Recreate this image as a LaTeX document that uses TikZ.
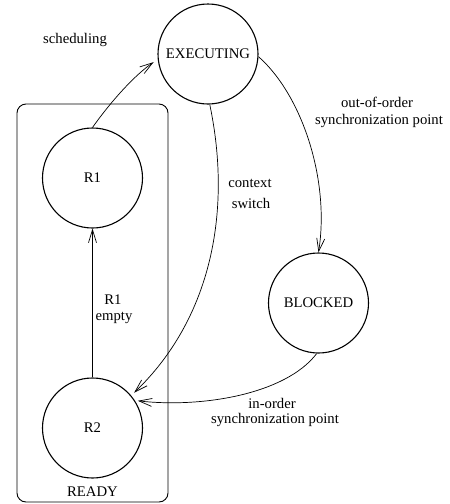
\documentclass[tikz,border=0pt]{standalone}
\usepackage{fontspec}
\setmainfont{Liberation Serif}
\usetikzlibrary{arrows.meta}
\newcommand\diagfont{\fontsize{14.7}{17}\selectfont}
\begin{document}
\begin{tikzpicture}[x=1pt, y=-1pt,
  state/.style={circle, draw, line width=1.1pt, minimum size=100pt, inner sep=0pt, font=\diagfont},
  lbl/.style={inner sep=0pt, align=center, font=\diagfont},
  flow/.style={line width=0.7pt, -{Straight Barb[length=13pt, width=8pt, line width=0.7pt]}},
  group/.style={draw, line width=0.9pt, rounded corners=9pt, minimum width=151pt, minimum height=398pt, inner sep=0pt}]
  \useasboundingbox (0,0) rectangle (450,504);

  % READY group with its two queues
  \node[group] (ready) at (92.5,303) {};
  \node[lbl, anchor=base] (readylbl) at (92.5,496) {READY};
  \node[state] (r1) at (92.5,178) {R1};
  \node[state] (r2) at (92.5,428) {R2};

  % running and blocked states
  \node[state] (exec) at (208,54) {EXECUTING};
  \node[state] (blocked) at (318.5,303) {BLOCKED};

  % transitions
  \draw[flow, shorten >=5pt] (r1.north) .. controls (112,100) and (135,75) .. (exec.186);
  \draw[flow] (r2.north) -- (r1.south);
  \draw[flow] (exec.-3) .. controls (302,95) and (330,180) .. (blocked.north);
  \draw[flow, shorten >=4pt] (exec.-88) .. controls (232,210) and (212,318) .. (r2.40);
  \draw[flow, shorten >=3pt] (blocked.-92) .. controls (285,395) and (200,408) .. (r2.33);

  % transition labels
  \node[lbl, anchor=base] (lsched) at (75,43) {scheduling};
  \node[lbl, anchor=base] (lout1) at (377,107) {out-of-order};
  \node[lbl, anchor=base] (lout2) at (379,124) {synchronization point};
  \node[lbl, anchor=base] (lctx1) at (250,187) {context};
  \node[lbl, anchor=base] (lctx2) at (251,208) {switch};
  \node[lbl, anchor=base] (lemp1) at (113,304) {R1};
  \node[lbl, anchor=base] (lemp2) at (114,320) {empty};
  \node[lbl, anchor=base] (lin1) at (272,408) {in-order};
  \node[lbl, anchor=base] (lin2) at (275,423) {synchronization point};
\end{tikzpicture}
\end{document}
